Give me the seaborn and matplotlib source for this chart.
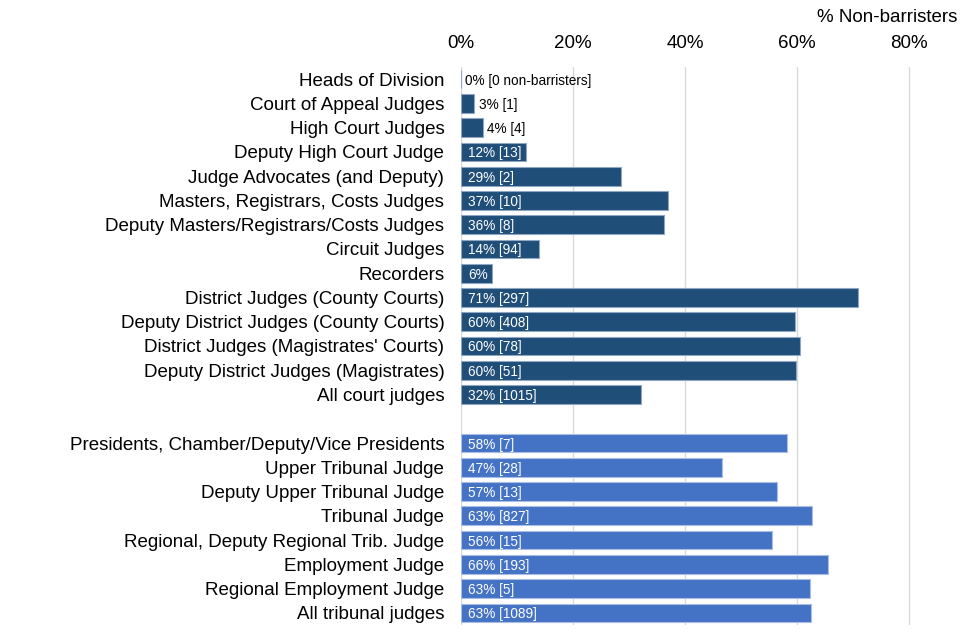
import pandas as pd
import matplotlib
matplotlib.use("Agg")
import matplotlib.pyplot as plt
import seaborn as sns

# judge types, top to bottom ("" is the gap between courts and tribunals)
roles = ["Heads of Division", "Court of Appeal Judges", "High Court Judges",
         "Deputy High Court Judge", "Judge Advocates (and Deputy)",
         "Masters, Registrars, Costs Judges", "Deputy Masters/Registrars/Costs Judges",
         "Circuit Judges", "Recorders", "District Judges (County Courts)",
         "Deputy District Judges (County Courts)", "District Judges (Magistrates' Courts)",
         "Deputy District Judges (Magistrates)", "All court judges", "",
         "Presidents, Chamber/Deputy/Vice Presidents", "Upper Tribunal Judge",
         "Deputy Upper Tribunal Judge", "Tribunal Judge",
         "Regional, Deputy Regional Trib. Judge", "Employment Judge",
         "Regional Employment Judge", "All tribunal judges"]

court_roles = roles[:14]
court_pct = [0, 2.4, 3.9, 11.6, 28.5, 37.0, 36.3, 14.0, 5.6, 70.9, 59.6, 60.5, 59.9, 32.2]
court_labels = ["0% [0 non-barristers]", "3% [1]", "4% [4]", "12% [13]", "29% [2]",
                "37% [10]", "36% [8]", "14% [94]", "6%", "71% [297]", "60% [408]",
                "60% [78]", "60% [51]", "32% [1015]"]

trib_roles = roles[15:]
trib_pct = [58.3, 46.6, 56.5, 62.7, 55.5, 65.6, 62.4, 62.5]
trib_labels = ["58% [7]", "47% [28]", "57% [13]", "63% [827]", "56% [15]",
               "66% [193]", "63% [5]", "63% [1089]"]

df = pd.DataFrame({
    "role": court_roles + trib_roles,
    "pct": court_pct + trib_pct,
    "label": court_labels + trib_labels,
    "group": ["court"] * len(court_roles) + ["tribunal"] * len(trib_roles),
})

colours = {"court": "#1f4e79", "tribunal": "#4472c4"}
edges = {"court": "#8fa7c2", "tribunal": "#a9bde6"}

sns.set_style("white")
plt.rcParams["font.family"] = ["Liberation Sans", "DejaVu Sans"]
plt.rcParams["text.color"] = "black"
plt.rcParams["xtick.color"] = "black"
plt.rcParams["ytick.color"] = "black"

fig = plt.figure(figsize=(9.6, 6.4), dpi=100)
ax = fig.add_axes([461 / 960, 1 - 625 / 640, (948 - 461) / 960, (625 - 67) / 640])

sns.barplot(data=df, x="pct", y="role", hue="group", order=roles, palette=colours,
            dodge=False, width=0.77, saturation=1, legend=False, ax=ax)

# light outline on the bars like the original
for cont, grp in zip(ax.containers, ["court", "tribunal"]):
    for bar in cont:
        bar.set_edgecolor(edges[grp])
        bar.set_linewidth(0.8)

# value labels: white inside the bar, black after the short ones
for i, row in df.iterrows():
    ypos = roles.index(row["role"])
    if row["pct"] < 5:
        xpos = row["pct"] + (0.8 if row["pct"] > 0 else 0.7)
        ax.text(xpos, ypos, row["label"], va="center_baseline", ha="left",
                fontsize=9.8, color="black")
    else:
        ax.text(1.3, ypos, row["label"], va="center_baseline", ha="left",
                fontsize=9.8, color="white")

ax.set_xlim(0, 87)
ax.set_ylim(len(roles) - 0.5, -0.5)
ax.set_xticks([0, 20, 40, 60, 80])
ax.set_xticklabels(["0%", "20%", "40%", "60%", "80%"])
ax.xaxis.tick_top()
ax.tick_params(axis="x", length=0, pad=11, labelsize=13.5)
ax.tick_params(axis="y", length=0, pad=12, labelsize=13.5)
ax.set_xlabel("")
ax.set_ylabel("")
ax.grid(axis="x", color="#d9d9d9", linewidth=1)
ax.set_axisbelow(True)
sns.despine(ax=ax, left=True, bottom=True, top=True, right=True)

fig.text(957 / 960, 1 - 18 / 640, "% Non-barristers", ha="right", va="center", fontsize=13.5)

fig.savefig("out.png", dpi=100)
